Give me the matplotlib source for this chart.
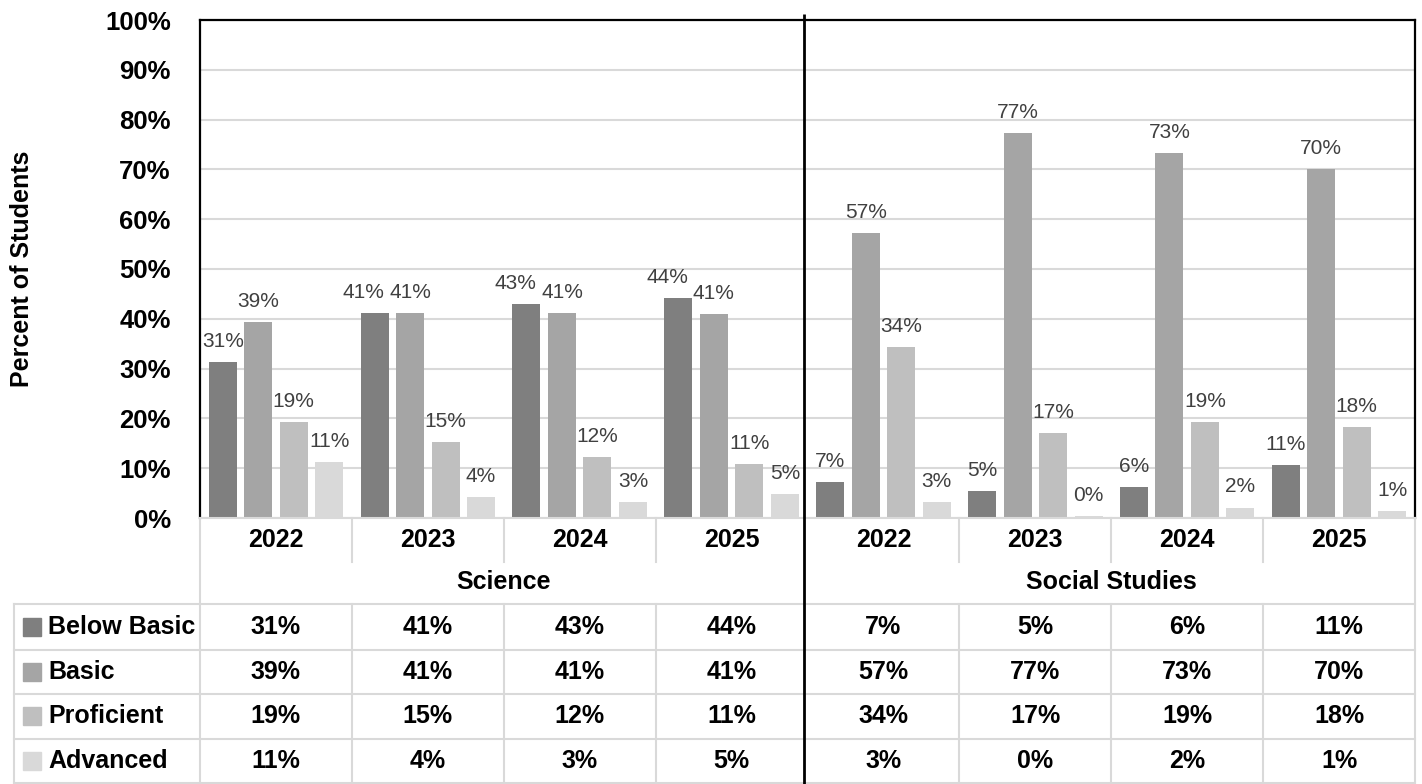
import matplotlib.pyplot as plt
import matplotlib.transforms as mtransforms
from matplotlib.patches import Rectangle
import numpy as np

plt.rcParams['font.family'] = ['Liberation Sans', 'DejaVu Sans']

subjects = ['Science', 'Social Studies']
years = ['2022', '2023', '2024', '2025']
levels = ['Below Basic', 'Basic', 'Proficient', 'Advanced']
colors = ['#7f7f7f', '#a5a5a5', '#bfbfbf', '#d9d9d9']

# percent of students: Science 2022-2025, then Social Studies 2022-2025
below_basic = [31.3, 41.2, 43.0, 44.1, 7.2, 5.4, 6.2, 10.7]
basic = [39.3, 41.2, 41.2, 41.0, 57.3, 77.3, 73.3, 70.1]
proficient = [19.3, 15.3, 12.2, 10.9, 34.3, 17.1, 19.3, 18.3]
advanced = [11.2, 4.2, 3.2, 4.8, 3.2, 0.4, 2.1, 1.4]
series = [below_basic, basic, proficient, advanced]

W, H = 1422, 784
fig = plt.figure(figsize=(W / 100, H / 100), dpi=100)

# plot area in pixels: x 200..1415, y 20..518
ax = fig.add_axes([200 / W, (H - 518) / H, 1215 / W, 498 / H])
n = len(subjects) * len(years)
x = np.arange(n)
step, width = 0.2337, 0.184
for j, (vals, col) in enumerate(zip(series, colors)):
    xs = x + (j - 1.5) * step
    ax.bar(xs, vals, width=width, color=col, zorder=2)
    for i, (xi, v) in enumerate(zip(xs, vals)):
        dx = 0
        # nudge Below Basic label left when it would collide with the Basic label
        if j == 0 and abs(v - basic[i]) < 5:
            dx = -8
        ax.annotate(f'{v:.0f}%', (xi, v), xytext=(dx, 8), textcoords='offset points',
                    ha='center', va='bottom', color='#404040', fontsize=15)

ax.set_xlim(-0.5, n - 0.5)
ax.set_ylim(0, 100)
ax.set_xticks([])
ax.set_yticks(range(0, 101, 10))
ax.set_yticklabels([f'{t}%' for t in range(0, 101, 10)], fontsize=18.5, fontweight='bold')
ax.tick_params(axis='y', length=0, pad=21)
ax.yaxis.grid(True, color='#d9d9d9', lw=1.5)
ax.set_axisbelow(True)
for s in ['left', 'top', 'right']:
    ax.spines[s].set_color('black')
    ax.spines[s].set_linewidth(1.6)
ax.spines['bottom'].set_color('#d9d9d9')
ax.spines['bottom'].set_linewidth(1.5)

fig.text(22 / W, 1 - 269 / H, 'Percent of Students', rotation=90, ha='center',
         va='center', fontsize=18, fontweight='bold')

# overlay for the data table (pixel coordinates, y down)
ov = fig.add_axes([0, 0, 1, 1], zorder=3)
ov.set_xlim(0, W)
ov.set_ylim(H, 0)
ov.axis('off')
ov.patch.set_alpha(0)
tr = mtransforms.blended_transform_factory(ax.transData, ov.transData)

grid_c = '#d9d9d9'
row_lines = [604, 650, 694, 739, 783]
row_mid = [627, 672, 716, 761]
for yl in row_lines:
    ov.plot([14, 1415], [yl, yl], color=grid_c, lw=1.5)
ov.plot([14, 14], [604, 784], color=grid_c, lw=1.5)
ov.plot([-0.5, -0.5], [518, 784], color=grid_c, lw=1.5, transform=tr)
ov.plot([n - 0.5, n - 0.5], [518, 784], color=grid_c, lw=1.5, transform=tr)
for k in range(1, n):
    if k == len(years):
        continue
    ov.plot([k - 0.5, k - 0.5], [518, 562], color=grid_c, lw=1.5, transform=tr)
    ov.plot([k - 0.5, k - 0.5], [604, 784], color=grid_c, lw=1.5, transform=tr)
mid = len(years) - 0.52
ov.plot([mid, mid], [14, 784], color='black', lw=2, transform=tr, solid_capstyle='butt')

for i in range(n):
    ov.text(i, 540, years[i % len(years)], transform=tr, ha='center', va='center',
            fontsize=18, fontweight='bold')
for s, name in enumerate(subjects):
    ov.text(s * len(years) + (len(years) - 1) / 2, 582, name, transform=tr,
            ha='center', va='center', fontsize=18, fontweight='bold')

for r, (lvl, vals, col) in enumerate(zip(levels, series, colors)):
    ym = row_mid[r]
    ov.add_patch(Rectangle((23, ym - 9), 18, 18, color=col))
    ov.text(48, ym, lvl, ha='left', va='center', fontsize=18, fontweight='bold')
    for i, v in enumerate(vals):
        ov.text(i, ym, f'{v:.0f}%', transform=tr, ha='center', va='center',
                fontsize=18, fontweight='bold')

fig.savefig('out.png', dpi=100)
